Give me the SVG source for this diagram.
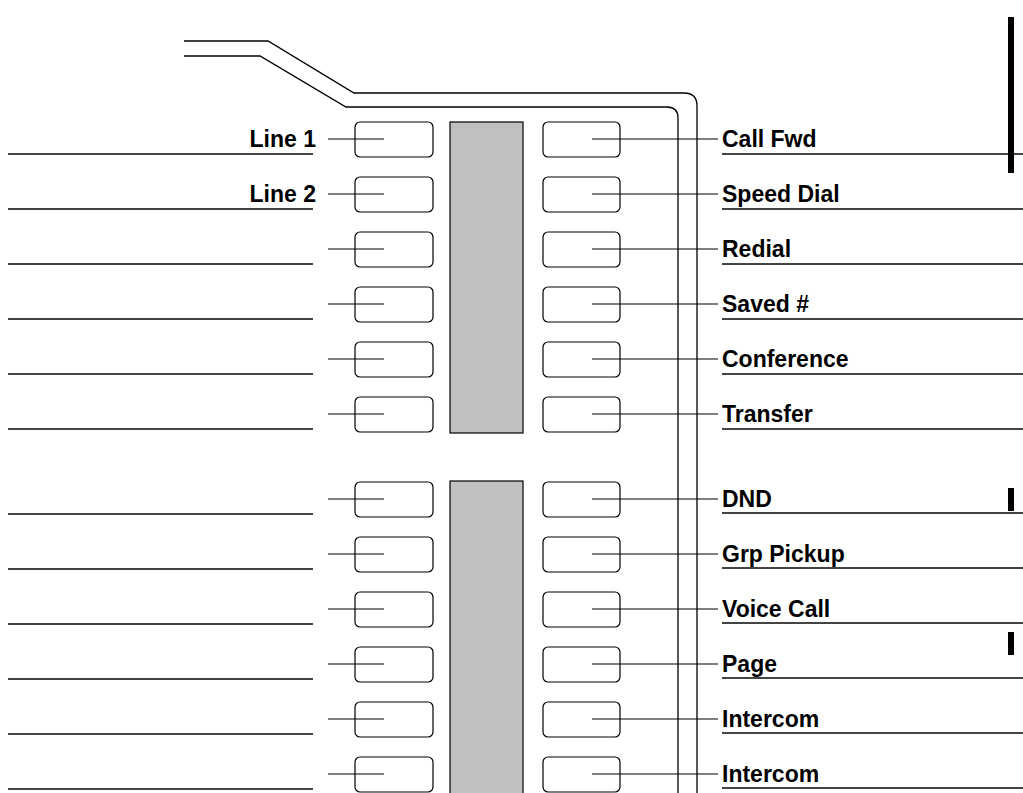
<svg xmlns="http://www.w3.org/2000/svg" width="1023" height="793" viewBox="0 0 1023 793">
<style>
.bg{fill:#fff}
.cord{fill:none;stroke:#000;stroke-width:1.3}
.key{fill:#fff;stroke:#000;stroke-width:1.2}
.disp{fill:#c0c0c0;stroke:#000;stroke-width:1.2}
.lead{stroke:#000;stroke-width:1.2}
.ul{stroke:#444;stroke-width:1.8}
.lbl{font-family:"Liberation Sans",Arial,sans-serif;font-weight:bold;font-size:23px;fill:#000}
.bar{fill:#000}
</style>
<rect class="bg" x="0" y="0" width="1023" height="793"/>
<g id="handset-cord">
<path class="cord" d="M184,41 H268 L354,93 H684 Q697,93 697,106 V800"/>
<path class="cord" d="M184,56 H260 L346,107 H667 Q678,107 678,118 V800"/>
</g>
<g id="displays">
<rect class="disp" x="450" y="122" width="73" height="311"/>
<rect class="disp" x="450" y="481" width="73" height="320"/>
</g>
<g id="left-keys">
<rect class="key" x="355" y="122" width="78" height="35" rx="5"/>
<rect class="key" x="355" y="177" width="78" height="35" rx="5"/>
<rect class="key" x="355" y="232" width="78" height="35" rx="5"/>
<rect class="key" x="355" y="287" width="78" height="35" rx="5"/>
<rect class="key" x="355" y="342" width="78" height="35" rx="5"/>
<rect class="key" x="355" y="397" width="78" height="35" rx="5"/>
<rect class="key" x="355" y="482" width="78" height="35" rx="5"/>
<rect class="key" x="355" y="537" width="78" height="35" rx="5"/>
<rect class="key" x="355" y="592" width="78" height="35" rx="5"/>
<rect class="key" x="355" y="647" width="78" height="35" rx="5"/>
<rect class="key" x="355" y="702" width="78" height="35" rx="5"/>
<rect class="key" x="355" y="757" width="78" height="35" rx="5"/>
</g>
<g id="right-keys">
<rect class="key" x="543" y="122" width="77" height="35" rx="5"/>
<rect class="key" x="543" y="177" width="77" height="35" rx="5"/>
<rect class="key" x="543" y="232" width="77" height="35" rx="5"/>
<rect class="key" x="543" y="287" width="77" height="35" rx="5"/>
<rect class="key" x="543" y="342" width="77" height="35" rx="5"/>
<rect class="key" x="543" y="397" width="77" height="35" rx="5"/>
<rect class="key" x="543" y="482" width="77" height="35" rx="5"/>
<rect class="key" x="543" y="537" width="77" height="35" rx="5"/>
<rect class="key" x="543" y="592" width="77" height="35" rx="5"/>
<rect class="key" x="543" y="647" width="77" height="35" rx="5"/>
<rect class="key" x="543" y="702" width="77" height="35" rx="5"/>
<rect class="key" x="543" y="757" width="77" height="35" rx="5"/>
</g>
<g id="connectors">
<g id="left-leads">
<line class="lead" x1="328" y1="139" x2="384" y2="139"/>
<line class="lead" x1="328" y1="194" x2="384" y2="194"/>
<line class="lead" x1="328" y1="249" x2="384" y2="249"/>
<line class="lead" x1="328" y1="304" x2="384" y2="304"/>
<line class="lead" x1="328" y1="359" x2="384" y2="359"/>
<line class="lead" x1="328" y1="414" x2="384" y2="414"/>
<line class="lead" x1="328" y1="499" x2="384" y2="499"/>
<line class="lead" x1="328" y1="554" x2="384" y2="554"/>
<line class="lead" x1="328" y1="609" x2="384" y2="609"/>
<line class="lead" x1="328" y1="664" x2="384" y2="664"/>
<line class="lead" x1="328" y1="719" x2="384" y2="719"/>
<line class="lead" x1="328" y1="774" x2="384" y2="774"/>
</g>
<g id="right-leads">
<line class="lead" x1="592" y1="139" x2="718" y2="139"/>
<line class="lead" x1="592" y1="194" x2="718" y2="194"/>
<line class="lead" x1="592" y1="249" x2="718" y2="249"/>
<line class="lead" x1="592" y1="304" x2="718" y2="304"/>
<line class="lead" x1="592" y1="359" x2="718" y2="359"/>
<line class="lead" x1="592" y1="414" x2="718" y2="414"/>
<line class="lead" x1="592" y1="499" x2="718" y2="499"/>
<line class="lead" x1="592" y1="554" x2="718" y2="554"/>
<line class="lead" x1="592" y1="609" x2="718" y2="609"/>
<line class="lead" x1="592" y1="664" x2="718" y2="664"/>
<line class="lead" x1="592" y1="719" x2="718" y2="719"/>
<line class="lead" x1="592" y1="774" x2="718" y2="774"/>
</g>
</g>
<g id="left-labels">
<line class="ul" x1="8" y1="154" x2="313" y2="154"/>
<line class="ul" x1="8" y1="209" x2="313" y2="209"/>
<line class="ul" x1="8" y1="264" x2="313" y2="264"/>
<line class="ul" x1="8" y1="319" x2="313" y2="319"/>
<line class="ul" x1="8" y1="374" x2="313" y2="374"/>
<line class="ul" x1="8" y1="429" x2="313" y2="429"/>
<line class="ul" x1="8" y1="514" x2="313" y2="514"/>
<line class="ul" x1="8" y1="569" x2="313" y2="569"/>
<line class="ul" x1="8" y1="624" x2="313" y2="624"/>
<line class="ul" x1="8" y1="679" x2="313" y2="679"/>
<line class="ul" x1="8" y1="734" x2="313" y2="734"/>
<line class="ul" x1="8" y1="789" x2="313" y2="789"/>
<text class="lbl" x="316" y="147" text-anchor="end">Line 1</text>
<text class="lbl" x="316" y="202" text-anchor="end">Line 2</text>
</g>
<g id="right-labels">
<line class="ul" x1="722" y1="154" x2="1023" y2="154"/>
<line class="ul" x1="722" y1="209" x2="1023" y2="209"/>
<line class="ul" x1="722" y1="264" x2="1023" y2="264"/>
<line class="ul" x1="722" y1="319" x2="1023" y2="319"/>
<line class="ul" x1="722" y1="374" x2="1023" y2="374"/>
<line class="ul" x1="722" y1="429" x2="1023" y2="429"/>
<line class="ul" x1="722" y1="513" x2="1023" y2="513"/>
<line class="ul" x1="722" y1="568" x2="1023" y2="568"/>
<line class="ul" x1="722" y1="623" x2="1023" y2="623"/>
<line class="ul" x1="722" y1="678" x2="1023" y2="678"/>
<line class="ul" x1="722" y1="733" x2="1023" y2="733"/>
<line class="ul" x1="722" y1="788" x2="1023" y2="788"/>
<text class="lbl" x="722" y="147">Call Fwd</text>
<text class="lbl" x="722" y="202">Speed Dial</text>
<text class="lbl" x="722" y="257">Redial</text>
<text class="lbl" x="722" y="312">Saved #</text>
<text class="lbl" x="722" y="367">Conference</text>
<text class="lbl" x="722" y="422">Transfer</text>
<text class="lbl" x="722" y="507">DND</text>
<text class="lbl" x="722" y="562">Grp Pickup</text>
<text class="lbl" x="722" y="617">Voice Call</text>
<text class="lbl" x="722" y="672">Page</text>
<text class="lbl" x="722" y="727">Intercom</text>
<text class="lbl" x="722" y="782">Intercom</text>
</g>
<g id="marks">
<rect class="bar" x="1008" y="17" width="6" height="156"/>
<rect class="bar" x="1008" y="488" width="6" height="23"/>
<rect class="bar" x="1008" y="632" width="6" height="23"/>
</g>
</svg>
